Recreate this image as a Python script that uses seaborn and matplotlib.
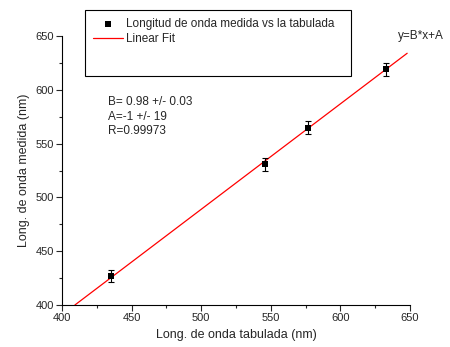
import matplotlib as mpl
mpl.use('Agg')
import matplotlib.pyplot as plt
from matplotlib.patches import Rectangle
import seaborn as sns
import numpy as np
import pandas as pd

# data
tabulada = [435, 546, 577, 633]
medida = [427, 531, 565, 619]
error = [6, 6, 6, 6]
B, A = 0.98, -1
fit_x = [409.2, 648]

sns.set_theme(style="ticks")
plt.rcParams['font.family'] = ['Liberation Sans', 'DejaVu Sans']
plt.rcParams['font.size'] = 8

df = pd.DataFrame({'tab': tabulada, 'med': medida})
fit = pd.DataFrame({'x': fit_x, 'y': [B * v + A for v in fit_x]})

fig = plt.figure(figsize=(4.5, 3.47), dpi=100)
ax = fig.add_axes([0.138, 0.121, 0.773, 0.775])

ax.errorbar(tabulada, medida, yerr=error, fmt='none', ecolor='black',
            elinewidth=0.8, capsize=2, capthick=0.8, zorder=3)
sns.scatterplot(data=df, x='tab', y='med', marker='s', color='black', s=22,
                edgecolor='black', linewidth=0, ax=ax, zorder=4,
                label='Longitud de onda medida vs la tabulada')
sns.lineplot(data=fit, x='x', y='y', color='red', linewidth=0.9, ax=ax,
             label='Linear Fit', zorder=2)

ax.set_xlim(400, 650)
ax.set_ylim(400, 650)
ax.set_xticks(np.arange(400, 651, 50))
ax.set_yticks(np.arange(400, 651, 50))
ax.set_xticks(np.arange(425, 650, 50), minor=True)
ax.set_yticks(np.arange(425, 650, 50), minor=True)
ax.tick_params(which='major', length=4, width=0.8, labelsize=8, pad=2)
ax.tick_params(which='minor', length=2, width=0.8)
sns.despine(ax=ax)
for s in ['left', 'bottom']:
    ax.spines[s].set_linewidth(0.8)
    ax.spines[s].set_color('black')

ax.set_xlabel('Long. de onda tabulada (nm)', fontsize=9)
ax.set_ylabel('Long. de onda medida (nm)', fontsize=9)

# legend box (drawn by hand, it has empty room under the entries)
ax.add_patch(Rectangle((0.066, 0.851), 0.764, 0.246, transform=ax.transAxes,
                       fill=True, facecolor='white', edgecolor='black',
                       linewidth=0.8, clip_on=False, zorder=5))
leg = ax.legend(loc='upper left', bbox_to_anchor=(0.066, 1.097),
                borderaxespad=0, fontsize=8.5, frameon=False,
                handlelength=2.6, handletextpad=0.2, labelspacing=0.3,
                borderpad=0.65)
leg.set_zorder(6)

ax.text(0.132, 0.776, 'B= 0.98 +/- 0.03\nA=-1 +/- 19\nR=0.99973',
        transform=ax.transAxes, fontsize=8.5, va='top', linespacing=1.25)
ax.text(0.966, 0.99, 'y=B*x+A', transform=ax.transAxes, fontsize=8.5)

fig.savefig('out.png', dpi=100)
